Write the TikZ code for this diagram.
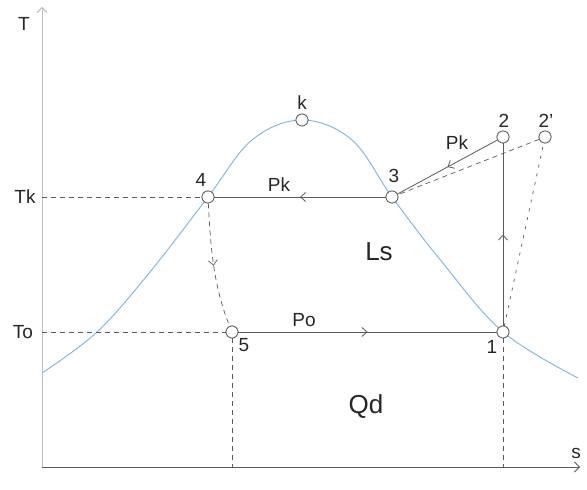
\documentclass[tikz,border=0pt]{standalone}
\usepackage{fontspec}
\setmainfont{Liberation Sans}
\usepackage{xcolor}
\usetikzlibrary{arrows.meta, decorations.markings, calc}
\definecolor{CurveBlue}{RGB}{120, 180, 230}
\definecolor{LineGray}{RGB}{90, 90, 90}
\definecolor{AxisGray}{RGB}{190, 190, 190}

\tikzset{
  statept/.style={circle, draw=LineGray, fill=white, line width=0.7pt, minimum size=12pt, inner sep=0pt},
  lbl/.style={font=\fontsize{19}{21}\selectfont, text=black!85},
  biglbl/.style={font=\fontsize{26}{28}\selectfont, text=black!85},
  cycle/.style={draw=LineGray, line width=0.8pt},
  guide/.style={draw=LineGray, line width=0.7pt, dash pattern=on 5pt off 4pt},
  midarrow/.style={postaction={decorate}, decoration={markings,
    mark=at position 0.5 with {\arrow{Straight Barb[length=5pt, width=9pt]}}}}
}

\begin{document}
\begin{tikzpicture}[x=1pt, y=1pt]
  \useasboundingbox (0,0) rectangle (587,490);

  % axes
  \coordinate (orig) at (42,23);
  \coordinate (tTop) at (42,483);
  \coordinate (sEnd) at (580,23);
  \draw[AxisGray, line width=1pt, -{Straight Barb[length=5pt, width=10pt]}] (orig) -- (tTop);
  \draw[LineGray, line width=0.8pt, -{Straight Barb[length=5pt, width=10pt]}] (orig) -- (sEnd);
  \node[lbl] (tLbl) at (24,466) {T};
  \node[lbl] (sLbl) at (576,37) {s};

  % saturation curve
  \draw[CurveBlue, line width=0.9pt] plot[smooth, tension=0.6] coordinates {
    (42,117) (97,158) (150,218) (208,293) (252,350) (302,370)
    (352,350) (392,293) (442,228) (503,158) (578,112)};

  % state points
  \node[statept] (p1) at (503,158) {};
  \node[statept] (p2) at (503,353) {};
  \node[statept] (p2s) at (545,353) {};
  \node[statept] (p3) at (392,293) {};
  \node[statept] (p4) at (208,293) {};
  \node[statept] (p5) at (232,158) {};
  \node[statept] (pk) at (302,370) {};

  % guide lines
  \coordinate (tkAxis) at (42,293);
  \coordinate (toAxis) at (42,158);
  \coordinate (p5Foot) at (232,23);
  \coordinate (p1Foot) at (503,23);
  \draw[guide] (tkAxis) -- (p4);
  \draw[guide] (toAxis) -- (p5);
  \draw[guide] (p5) -- (p5Foot);
  \draw[guide] (p1) -- (p1Foot);
  \draw[guide] (p2s) -- (p3);
  \draw[guide, dash pattern=on 3pt off 6pt] (p1) -- (p2s);

  % cycle
  \draw[cycle, midarrow] (p5) -- (p1);
  \draw[cycle, midarrow] (p1) -- (p2);
  \draw[cycle, midarrow] (p2) -- (p3);
  \draw[cycle, midarrow] (p3) -- (p4);
  \draw[guide, midarrow] (p4) to[out=-87, in=112, looseness=0.9] (p5);

  % redraw points on top
  \foreach \p in {p1, p2, p2s, p3, p4, p5, pk}
    \node[statept] at (\p) {};

  % labels
  \node[lbl] (lTk) at (25,293) {Tk};
  \node[lbl] (lTo) at (23,158) {To};
  \node[lbl] (l1) at (492,143) {1};
  \node[lbl] (l2) at (504,369) {2};
  \node[lbl] (l2s) at (546,369) {2'};
  \node[lbl] (l3) at (394,314) {3};
  \node[lbl] (l4) at (201,310) {4};
  \node[lbl] (l5) at (244,145) {5};
  \node[lbl] (lk) at (302,387) {k};
  \node[lbl] (lPkLow) at (279,305) {Pk};
  \node[lbl] (lPkHigh) at (457,347) {Pk};
  \node[lbl] (lPo) at (304,170) {Po};
  \node[biglbl] (lLs) at (379,238) {Ls};
  \node[biglbl] (lQd) at (366,83) {Qd};
\end{tikzpicture}
\end{document}
